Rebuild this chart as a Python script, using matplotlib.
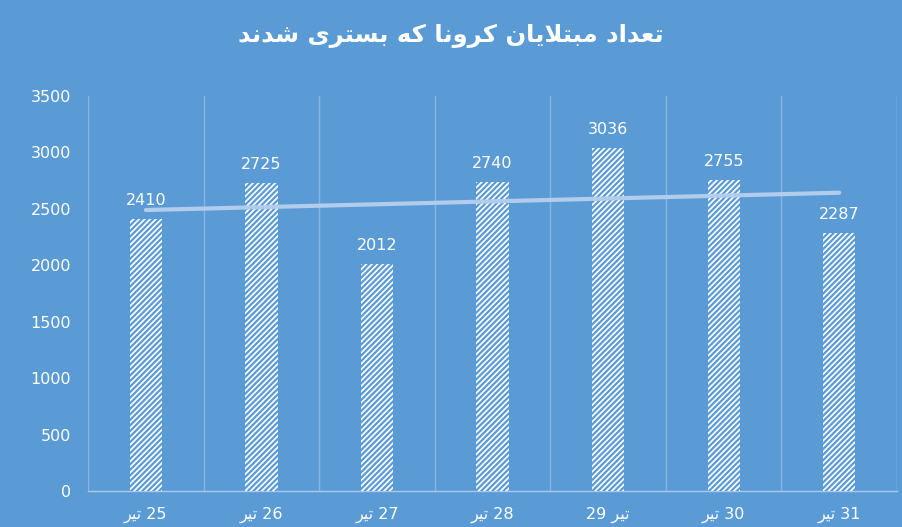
import numpy as np
import matplotlib
matplotlib.use('Agg')
from matplotlib import pyplot as plt

# data
days = ['25', '26', '27', '28', '29', '30', '31']
month = 'تیر'
cases = [2410, 2725, 2012, 2740, 3036, 2755, 2287]
title = 'تعداد مبتلایان کرونا که بستری شدند'

bg = '#5b9bd5'

# arabic presentation forms: isolated, final, initial, medial
forms = {
	'ا': ('\uFE8D', '\uFE8E', None, None),
	'ب': ('\uFE8F', '\uFE90', '\uFE91', '\uFE92'),
	'ت': ('\uFE95', '\uFE96', '\uFE97', '\uFE98'),
	'د': ('\uFEA9', '\uFEAA', None, None),
	'ر': ('\uFEAD', '\uFEAE', None, None),
	'س': ('\uFEB1', '\uFEB2', '\uFEB3', '\uFEB4'),
	'ش': ('\uFEB5', '\uFEB6', '\uFEB7', '\uFEB8'),
	'ع': ('\uFEC9', '\uFECA', '\uFECB', '\uFECC'),
	'ل': ('\uFEDD', '\uFEDE', '\uFEDF', '\uFEE0'),
	'م': ('\uFEE1', '\uFEE2', '\uFEE3', '\uFEE4'),
	'ن': ('\uFEE5', '\uFEE6', '\uFEE7', '\uFEE8'),
	'ه': ('\uFEE9', '\uFEEA', '\uFEEB', '\uFEEC'),
	'و': ('\uFEED', '\uFEEE', None, None),
	'ک': ('\uFB8E', '\uFB8F', '\uFB90', '\uFB91'),
	'ی': ('\uFBFC', '\uFBFD', '\uFBFE', '\uFBFF'),
}

def shape(s):
	out = ''
	i = 0
	while i < len(s):
		c = s[i]
		if c not in forms:
			out += c; i += 1
			continue
		prev = s[i-1] if i > 0 else ''
		joins_prev = prev in forms and forms[prev][2] is not None
		# lam-alef ligature
		if c == 'ل' and i+1 < len(s) and s[i+1] == 'ا':
			out += '\uFEFC' if joins_prev else '\uFEFB'
			i += 2
			continue
		nxt = s[i+1] if i+1 < len(s) else ''
		joins_next = nxt in forms and forms[c][2] is not None
		iso, fin, ini, med = forms[c]
		if joins_prev and joins_next:
			out += med
		elif joins_prev:
			out += fin
		elif joins_next:
			out += ini
		else:
			out += iso
		i += 1
	return out[::-1]

labels = []
for d in days:
	if d == '29':
		labels.append(d + ' ' + shape(month))
	else:
		labels.append(shape(month) + ' ' + d)

plt.rcParams['font.family'] = ['DejaVu Sans']
plt.rcParams['hatch.linewidth'] = 1.6

fig = plt.figure(figsize=(9.02, 5.27), dpi=100, facecolor=bg)
ax = fig.add_axes([0.0976, 0.0683, 0.8969, 0.7495])
ax.set_facecolor(bg)

x = np.arange(len(cases))
ax.bar(x, cases, width=0.28, color='white', edgecolor=bg, linewidth=0, hatch='//////', zorder=3)

for xi, v in zip(x, cases):
	ax.annotate(str(v), (xi, v), xytext=(0, 8), textcoords='offset points',
		ha='center', va='bottom', color='white', fontsize=11.5, zorder=5)

# linear trendline
p = np.polyfit(x, cases, 1)
ax.plot(x, np.polyval(p, x), color='#b2cdec', lw=3, solid_capstyle='round', zorder=4)

ax.set_xlim(-0.5, len(cases) - 0.5)
ax.set_ylim(0, 3500)
ax.set_yticks(np.arange(0, 3501, 500))
ax.set_xticks(x)
ax.set_xticklabels(labels)
ax.set_xticks(np.arange(-0.5, len(cases), 1.0), minor=True)
ax.grid(which='minor', axis='x', color='#88b5e3', lw=1.0, zorder=0)
ax.tick_params(which='both', length=0)
ax.tick_params(axis='y', colors='white', labelsize=11.5, pad=12)
ax.tick_params(axis='x', colors='white', labelsize=11.5, pad=11)

for s in ['top', 'right', 'left']:
	ax.spines[s].set_visible(False)
ax.spines['bottom'].set_color('#a9c9ec')
ax.spines['bottom'].set_linewidth(1.0)

fig.text(0.5, 0.932, shape(title), ha='center', va='center', color='white',
	fontsize=17.5, fontweight='bold')

fig.savefig('out.png', dpi=100, facecolor=bg)
